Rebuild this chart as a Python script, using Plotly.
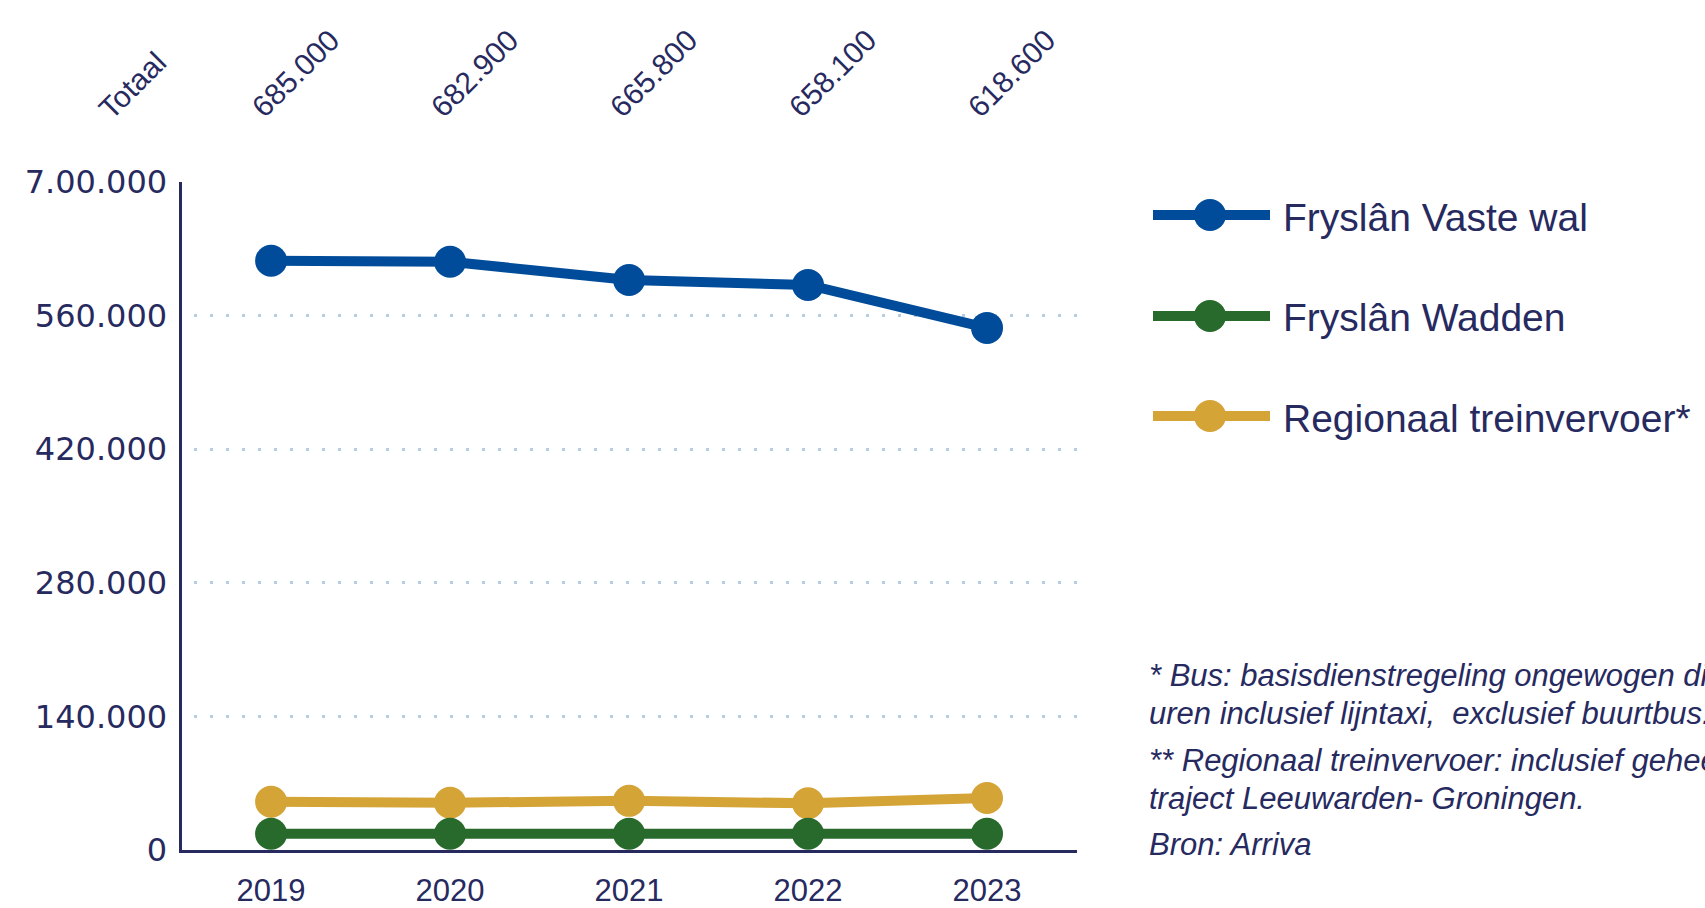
import plotly.graph_objects as go

# Reizigers per jaar (Arriva)
years = ["2019", "2020", "2021", "2022", "2023"]
totaal = [685000, 682900, 665800, 658100, 618600]
vaste_wal = [617500, 616400, 597300, 592100, 547100]
wadden = [17000, 17000, 17000, 17000, 17000]
trein = [50500, 49500, 51500, 49000, 54500]

series_names = ["Fryslân Vaste wal", "Fryslân Wadden", "Regionaal treinvervoer*"]
y_tickvals = [0, 140000, 280000, 420000, 560000, 700000]
y_ticktext = ["0", "140.000", "280.000", "420.000", "560.000", "7.00.000"]

footnotes = [
    "* Bus: basisdienstregeling ongewogen dienstregelings-",
    "uren inclusief lijntaxi,  exclusief buurtbus.",
    "** Regionaal treinvervoer: inclusief geheel",
    "traject Leeuwarden- Groningen.",
    "Bron: Arriva",
]

NAVY = "#272A5F"
BLUE = "#004C9A"
GREEN = "#276A2B"
GOLD = "#D4A437"
GRID = "#B7CDE5"

W, H = 1705, 908
# plot area in pixels
PX0, PX1, PY0, PY1 = 181.6, 1076.5, 182, 850


def px(x):
    return x / W


def py(y):
    return 1 - y / H


fig = go.Figure()

series = [
    (series_names[0], vaste_wal, BLUE),
    (series_names[2], trein, GOLD),
    (series_names[1], wadden, GREEN),
]
for name, vals, col in series:
    fig.add_trace(go.Scatter(
        x=years, y=vals, name=name, mode="lines+markers",
        line=dict(color=col, width=10),
        marker=dict(color=col, size=32),
        showlegend=False, hoverinfo="x+y+name",
    ))

annotations = []
# totals above the plot, rotated
annotations.append(dict(
    text="Totaal", x=px(132), y=py(85), xref="paper", yref="paper",
    xanchor="center", yanchor="middle",
    showarrow=False, textangle=-45,
    font=dict(family="Liberation Sans", size=30, color=NAVY),
))
for i, tot in enumerate(totaal):
    annotations.append(dict(
        text=f"{tot:,}".replace(",", "."), x=i, xref="x",
        y=py(73), yref="paper", xshift=24,
        xanchor="center", yanchor="middle",
        showarrow=False, textangle=-45,
        font=dict(family="Liberation Sans", size=30, color=NAVY),
    ))

# legend drawn by hand: long line with a dot in the middle
shapes = []
legend_rows = [(series_names[0], BLUE, 215), (series_names[1], GREEN, 316), (series_names[2], GOLD, 416)]
for name, col, yc in legend_rows:
    shapes.append(dict(type="line", xref="paper", yref="paper",
                       x0=px(1153), x1=px(1270), y0=py(yc), y1=py(yc),
                       line=dict(color=col, width=10)))
    shapes.append(dict(type="circle", xref="paper", yref="paper",
                       x0=px(1210 - 16), x1=px(1210 + 16), y0=py(yc - 16), y1=py(yc + 16),
                       fillcolor=col, line=dict(width=0)))
    annotations.append(dict(
        text=name, x=px(1281), y=py(yc + 2), xref="paper", yref="paper",
        xanchor="left", yanchor="middle", showarrow=False,
        font=dict(family="Liberation Sans", size=39, color=NAVY),
    ))

for txt, yc in zip(footnotes, [675, 713, 760, 798, 844]):
    annotations.append(dict(
        text=f"<i>{txt}</i>", x=px(1147), y=py(yc), xref="paper", yref="paper",
        xanchor="left", yanchor="middle", showarrow=False,
        font=dict(family="Liberation Sans", size=31, color=NAVY),
    ))

fig.update_layout(
    width=W, height=H,
    margin=dict(l=0, r=0, t=0, b=0, autoexpand=False),
    paper_bgcolor="white", plot_bgcolor="white",
    xaxis=dict(
        domain=[px(PX0), px(PX1)], type="category", range=[-0.5, 4.5],
        showline=True, linecolor=NAVY, linewidth=3, showgrid=False,
        ticks="", ticklabelstandoff=11, zeroline=False, automargin=False,
        tickfont=dict(family="Liberation Sans", size=31, color=NAVY),
    ),
    yaxis=dict(
        domain=[py(PY1), py(PY0)], range=[0, 700000],
        tickvals=y_tickvals, ticktext=y_ticktext,
        showline=True, linecolor=NAVY, linewidth=3,
        showgrid=True, gridcolor=GRID, gridwidth=3, griddash="0px,12px,3px,1px",
        zeroline=False, ticks="", ticklabelstandoff=5, automargin=False,
        tickfont=dict(family="DejaVu Sans", size=32, color=NAVY),
    ),
    annotations=annotations,
    shapes=shapes,
    showlegend=False,
)

fig.write_html("out.html")
